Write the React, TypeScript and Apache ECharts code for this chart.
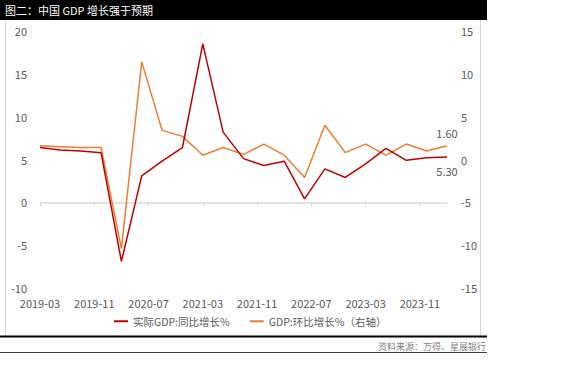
import React, { useEffect, useRef } from "react";
import * as echarts from "echarts";

const titleText = "图二：中国 GDP 增长强于预期";
const sourceText = "资料来源：万得、星展银行";
const seriesNames = ["实际GDP:同比增长%", "GDP:环比增长%（右轴）"];

const startMonth = "2019-03";
const endMonth = "2024-03";

const quarters = [
  "2019-03", "2019-06", "2019-09", "2019-12",
  "2020-03", "2020-06", "2020-09", "2020-12",
  "2021-03", "2021-06", "2021-09", "2021-12",
  "2022-03", "2022-06", "2022-09", "2022-12",
  "2023-03", "2023-06", "2023-09", "2023-12",
  "2024-03",
];
const yoy = [6.4, 6.1, 6.0, 5.8, -6.9, 3.1, 4.8, 6.4, 18.5, 8.2, 5.1, 4.3, 4.8, 0.4, 3.9, 2.9, 4.5, 6.3, 4.9, 5.2, 5.3];
const qoq = [1.6, 1.5, 1.4, 1.4, -10.4, 11.4, 3.4, 2.7, 0.5, 1.4, 0.6, 1.8, 0.5, -2.1, 4.0, 0.8, 1.8, 0.5, 1.8, 1.0, 1.6];

const leftTicks = { min: -10, max: 20, interval: 5 };
const rightTicks = { min: -15, max: 15, interval: 5 };

function buildMonths(start: string, end: string): string[] {
  const out: string[] = [];
  let [y, m] = start.split("-").map(Number);
  const [ey, em] = end.split("-").map(Number);
  while (y < ey || (y === ey && m <= em)) {
    out.push(`${y}-${String(m).padStart(2, "0")}`);
    m++;
    if (m > 12) { m = 1; y++; }
  }
  return out;
}

const FONT = "'Noto Sans CJK SC', 'Noto Sans', sans-serif";

export default function App() {
  const ref = useRef<HTMLDivElement>(null);
  useEffect(() => {
    if (!ref.current) return;
    const chart = echarts.init(ref.current, undefined, { renderer: "svg" });
    const months = buildMonths(startMonth, endMonth);
    const mk = (vals: number[], labelPos: "top" | "bottom", dist: number) =>
      quarters.map((q, i) => {
        const item: any = { value: [q, vals[i]] };
        if (i === quarters.length - 1) {
          item.label = {
            show: true,
            position: labelPos,
            distance: dist,
            formatter: vals[i].toFixed(2),
            color: "#595959",
            fontSize: 11,
            fontFamily: FONT,
          };
        }
        return item;
      });

    chart.setOption({
      animation: false,
      textStyle: { fontFamily: FONT },
      grid: { left: 40, right: 129, top: 31, bottom: 91 },
      legend: {
        left: 114,
        top: 316,
        padding: 0,
        itemWidth: 14,
        itemHeight: 2,
        itemGap: 20,
        icon: "rect",
        textStyle: { color: "#595959", fontSize: 10.5, fontFamily: FONT },
        data: seriesNames,
      },
      xAxis: [
        {
          type: "category",
          data: months,
          boundaryGap: false,
          position: "bottom",
          axisLine: { onZero: true, onZeroAxisIndex: 0, lineStyle: { color: "#D9D9D9", width: 1.5 } },
          axisTick: { show: true, interval: 7, length: 4, lineStyle: { color: "#D9D9D9" } },
          axisLabel: { show: false },
          splitLine: { show: false },
        },
        {
          type: "category",
          data: months,
          boundaryGap: false,
          position: "bottom",
          axisLine: { show: false, onZero: false },
          axisTick: { show: false },
          axisLabel: { interval: 7, color: "#595959", fontSize: 11, fontFamily: FONT, margin: 9 },
          splitLine: { show: false },
        },
      ],
      yAxis: [
        {
          type: "value",
          ...leftTicks,
          axisLine: { show: false },
          axisTick: { show: false },
          splitLine: { show: false },
          axisLabel: { color: "#595959", fontSize: 11, fontFamily: FONT, margin: 13 },
        },
        {
          type: "value",
          ...rightTicks,
          position: "right",
          axisLine: { show: false },
          axisTick: { show: false },
          splitLine: { show: false },
          axisLabel: { color: "#595959", fontSize: 11, fontFamily: FONT, margin: 14 },
        },
      ],
      series: [
        {
          name: seriesNames[0],
          type: "line",
          xAxisIndex: 0,
          yAxisIndex: 0,
          data: mk(yoy, "bottom", 9),
          showSymbol: true,
          symbolSize: 0,
          itemStyle: { color: "#C00000" },
          lineStyle: { color: "#C00000", width: 1.5 },
          z: 3,
        },
        {
          name: seriesNames[1],
          type: "line",
          xAxisIndex: 0,
          yAxisIndex: 1,
          data: mk(qoq, "top", 7),
          showSymbol: true,
          symbolSize: 0,
          itemStyle: { color: "#ED7D31" },
          lineStyle: { color: "#ED7D31", width: 1.5 },
          z: 2,
        },
      ],
      graphic: [
        { type: "rect", shape: { x: 0, y: 0, width: 487, height: 20 }, style: { fill: "#000" }, silent: true },
        {
          type: "text",
          x: 5,
          y: 10,
          style: { text: titleText, fill: "#fff", font: `11px ${FONT}`, verticalAlign: "middle" },
        },
        { type: "line", shape: { x1: 5.5, y1: 20, x2: 5.5, y2: 336 }, style: { stroke: "#D9D9D9", lineWidth: 1 } },
        { type: "line", shape: { x1: 480.5, y1: 20, x2: 480.5, y2: 336 }, style: { stroke: "#D9D9D9", lineWidth: 1 } },
        { type: "line", shape: { x1: 0, y1: 336.5, x2: 487, y2: 336.5 }, style: { stroke: "#000", lineWidth: 2 } },
        {
          type: "text",
          x: 486,
          y: 346,
          style: { text: sourceText, fill: "#7F7F7F", font: `9px ${FONT}`, align: "right", verticalAlign: "middle" },
        },
        { type: "line", shape: { x1: 0, y1: 352.5, x2: 487, y2: 352.5 }, style: { stroke: "#404040", lineWidth: 1 } },
      ],
    });
    return () => chart.dispose();
  }, []);
  return <div ref={ref} style={{ position: "absolute", left: 0, top: 0, width: 576, height: 379 }} />;
}
